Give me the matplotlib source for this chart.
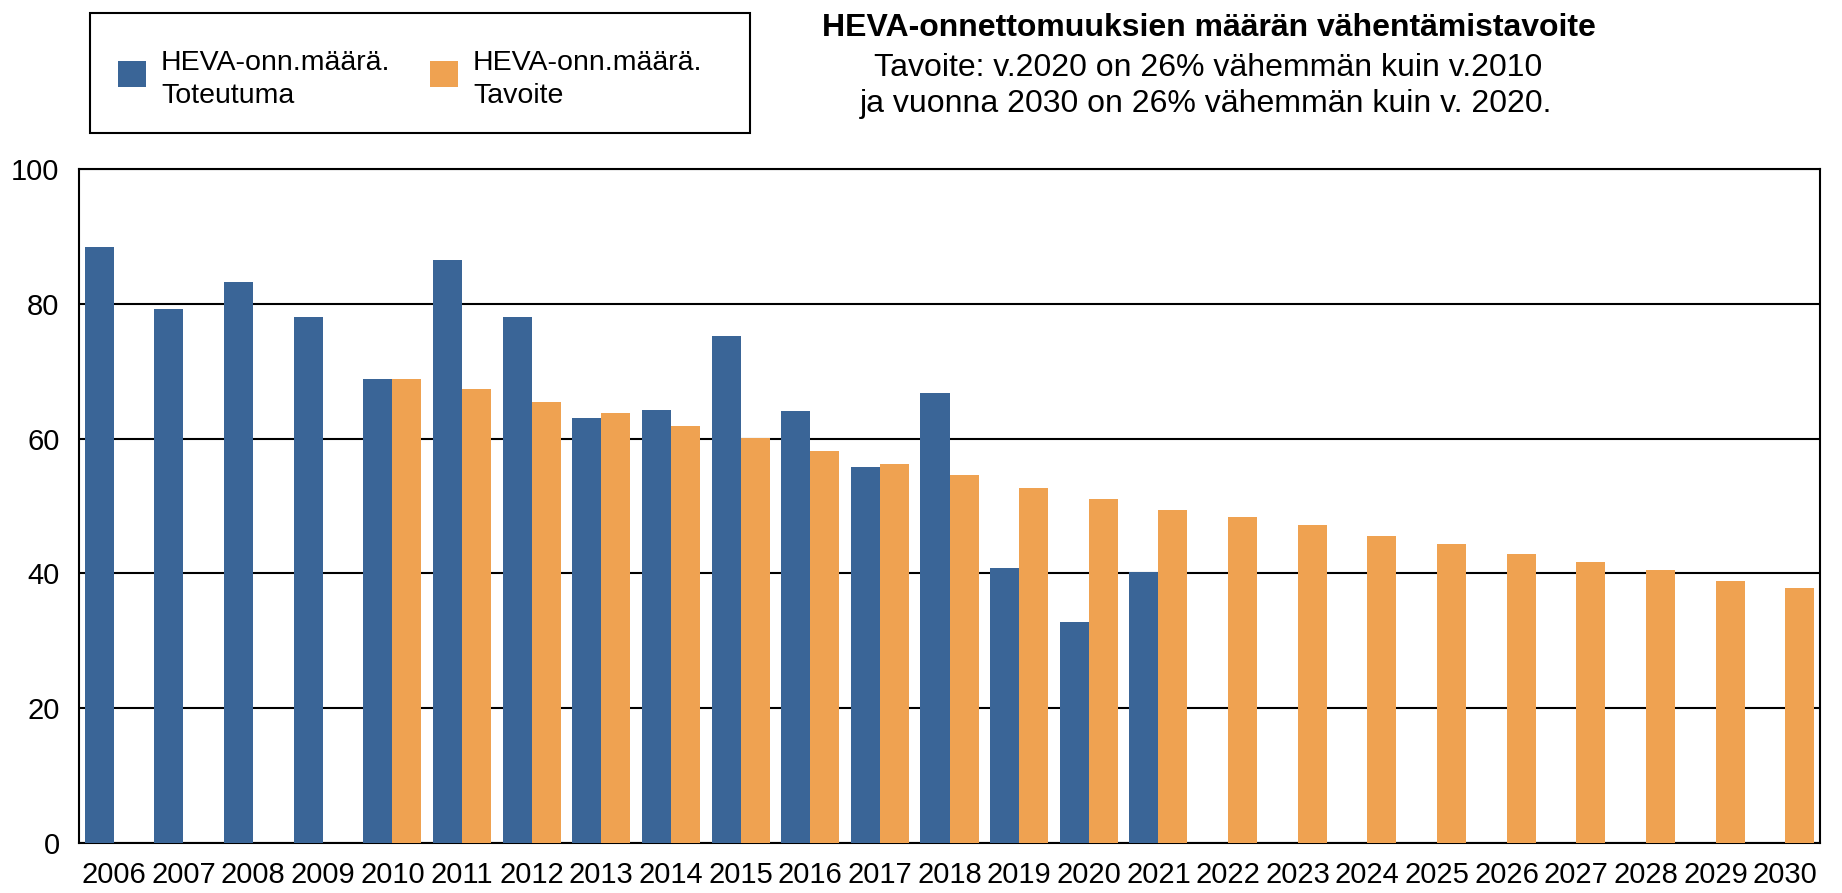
import numpy as np
import matplotlib
matplotlib.use("Agg")
import matplotlib.pyplot as plt
from matplotlib.patches import Rectangle

plt.rcParams['font.family'] = ['Liberation Sans', 'DejaVu Sans']

years = [str(y) for y in range(2006, 2031)]
nan = np.nan
toteutuma = [88.4, 79.3, 83.3, 78.1, 68.9, 86.5, 78.1, 63.0, 64.2, 75.2,
             64.1, 55.8, 66.8, 40.8, 32.8, 40.2,
             nan, nan, nan, nan, nan, nan, nan, nan, nan]
tavoite = [nan, nan, nan, nan, 68.9, 67.4, 65.4, 63.8, 61.8, 60.1,
           58.2, 56.2, 54.6, 52.6, 51.0, 49.4,
           48.3, 47.2, 45.6, 44.4, 42.9, 41.7, 40.5, 38.9, 37.8]

legend_line1 = "HEVA-onn.määrä."
legend_line2 = ["Toteutuma", "Tavoite"]
title = "HEVA-onnettomuuksien määrän vähentämistavoite"
subtitle_lines = ["Tavoite: v.2020 on 26% vähemmän kuin v.2010",
                  "ja vuonna 2030 on 26% vähemmän kuin v. 2020."]

blue = "#3A6597"
orange = "#EFA251"
colors = [blue, orange]

W, H = 1842, 893
fig = plt.figure(figsize=(W/100, H/100), dpi=100)


def fx(x):
    return x / W


def fy(y):
    return 1 - y / H


ax = fig.add_axes([fx(79), 50/H, (1820-79)/W, (843-169)/H])

x = np.arange(len(years))
w = 0.417
ax.bar(x - w/2, toteutuma, width=w, color=blue, zorder=3)
ax.bar(x + w/2, tavoite, width=w, color=orange, zorder=3)

ax.set_xlim(-0.5, len(years) - 0.5)
ax.set_ylim(0, 100)
ax.set_yticks([0, 20, 40, 60, 80, 100])
ax.set_xticks(x)
ax.set_xticklabels(years)
ax.tick_params(axis='both', length=0, labelsize=21)
ax.tick_params(axis='y', pad=14)
ax.tick_params(axis='x', pad=13)
ax.yaxis.grid(True, color='black', linewidth=1.5, zorder=1)
ax.set_axisbelow(True)
for s in ax.spines.values():
    s.set_color('black')
    s.set_linewidth(1.5)

# Title and subtitle
fig.text(fx(1209), fy(36), title, ha='center', va='baseline',
         fontsize=23, fontweight='bold')
fig.text(fx(1208), fy(76), subtitle_lines[0], ha='center', va='baseline', fontsize=23)
fig.text(fx(1206), fy(112), subtitle_lines[1], ha='center', va='baseline', fontsize=23)

# Legend (frame, swatches, labels)
fig.add_artist(Rectangle((fx(90), fy(133)), (750-90)/W, (133-13)/H,
                         transform=fig.transFigure, facecolor='white',
                         edgecolor='black', linewidth=1.5))
sw_x = [118, 430]
tx_x = [161, 473]
for i in range(2):
    fig.add_artist(Rectangle((fx(sw_x[i]), fy(87)), 28/W, 26/H,
                             transform=fig.transFigure, facecolor=colors[i],
                             edgecolor='none'))
    fig.text(fx(tx_x[i]), fy(70), legend_line1, ha='left', va='baseline', fontsize=20.5)
    fig.text(fx(tx_x[i]), fy(103), legend_line2[i], ha='left', va='baseline', fontsize=20.5)

fig.savefig("out.png", dpi=100)
